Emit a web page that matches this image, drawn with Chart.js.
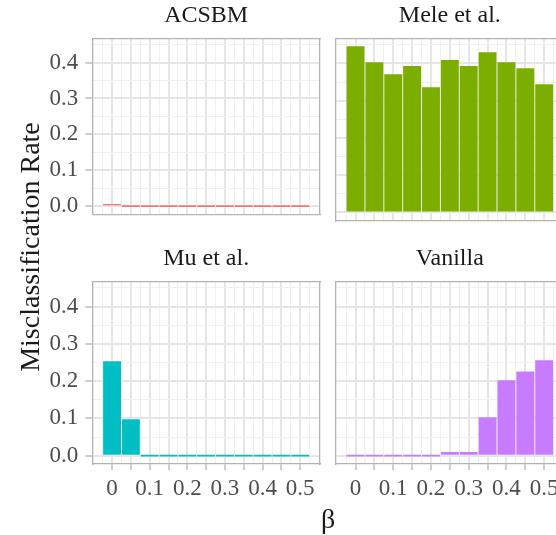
<!DOCTYPE html>
<html>
<head>
<meta charset="utf-8">
<script src="https://cdn.jsdelivr.net/npm/chart.js@4"></script>
<style>
  html, body { margin: 0; padding: 0; background: #fff; overflow: hidden; }
  body { width: 556px; height: 535px; position: relative; font-family: "Liberation Serif", serif; }
  canvas { position: absolute; }
  .lab { position: absolute; color: #1a1a1a; text-align: center; font-size: 28px; }
</style>
</head>
<body>
<canvas id="c1" width="328" height="235" style="left:0;top:0"></canvas>
<canvas id="c2" width="250" height="235" style="left:328px;top:0"></canvas>
<canvas id="c3" width="328" height="300" style="left:0;top:235px"></canvas>
<canvas id="c4" width="250" height="300" style="left:328px;top:235px"></canvas>
<div class="lab" style="left:-170px;top:230px;width:400px;height:34px;line-height:34px;transform:rotate(-90deg)">Misclassification Rate</div>
<div class="lab" style="left:228px;top:502px;width:200px;height:34px;line-height:34px">β</div>
<script>
var betas = [0, 0.05, 0.1, 0.15, 0.2, 0.25, 0.3, 0.35, 0.4, 0.45, 0.5];
var xTickLabels = ['0', '', '0.1', '', '0.2', '', '0.3', '', '0.4', '', '0.5'];
var xMinor = [-0.025, 0.025, 0.075, 0.125, 0.175, 0.225, 0.275, 0.325, 0.375, 0.425, 0.475, 0.525];
var yTicks = [0, 0.1, 0.2, 0.3, 0.4];
var yMinor = [0.05, 0.15, 0.25, 0.35, 0.45];

var acsbm   = [0.006, 0, 0, 0, 0, 0, 0, 0, 0, 0, 0];
var mele    = [0.446, 0.403, 0.371, 0.393, 0.336, 0.409, 0.393, 0.430, 0.403, 0.387, 0.344];
var mu      = [0.253, 0.098, 0, 0, 0, 0, 0, 0, 0, 0, 0];
var vanilla = [0, 0, 0, 0, 0, 0.010, 0.010, 0.103, 0.202, 0.226, 0.256];

var borderCol = '#b3b3b3';
var tickFont = { family: 'Liberation Serif', size: 23 };

function panel(id, title, values, color, showX, showY, top) {
  var right = showY ? 8 : 14;
  return new Chart(document.getElementById(id), {
    type: 'bar',
    data: {
      datasets: [{
        data: betas.map(function(b, i){ return { x: b, y: values[i] }; }),
        backgroundColor: color,
        barPercentage: 0.95,
        categoryPercentage: 1,
        minBarLength: 1.8
      }]
    },
    options: {
      responsive: false,
      animation: false,
      layout: { padding: { left: showY ? 0 : 7.7, right: right, top: 0, bottom: showX ? 26 : 14.3 } },
      plugins: {
        legend: { display: false },
        tooltip: { enabled: false },
        title: {
          display: true, text: title, color: '#1a1a1a', fullSize: false,
          font: { family: 'Liberation Serif', size: 24, weight: 'normal', lineHeight: 1.2 },
          padding: top ? { top: 1.6, bottom: 8.3 } : { top: 9.6, bottom: 8.3 }
        }
      },
      scales: {
        x: {
          type: 'linear', position: 'bottom', min: -0.0525, max: 0.5525, offset: false,
          afterBuildTicks: function(s){ s.ticks = betas.map(function(v){ return { value: v }; }); },
          afterFit: function(s){ s.height = showX ? 45 : 0; },
          ticks: {
            display: showX, autoSkip: false, maxRotation: 0, padding: 5,
            color: '#4d4d4d', font: tickFont,
            callback: function(v, i){ return xTickLabels[i]; }
          },
          grid: { offset: false, color: '#e6e6e6', lineWidth: 2, drawTicks: showX, tickLength: 6, tickColor: borderCol, tickWidth: 1.3 },
          border: { display: true, color: borderCol, width: 1.3 }
        },
        xm: {
          type: 'linear', position: 'top', min: -0.0525, max: 0.5525, offset: false,
          afterBuildTicks: function(s){ s.ticks = xMinor.map(function(v){ return { value: v }; }); },
          afterFit: function(s){ s.height = 0; },
          ticks: { display: false },
          grid: { offset: false, color: '#f0f0f0', lineWidth: 1, drawTicks: false },
          border: { display: true, color: borderCol, width: 1.3 }
        },
        y: {
          type: 'linear', position: 'left', min: -0.0223, max: 0.4665,
          afterBuildTicks: function(s){ s.ticks = yTicks.map(function(v){ return { value: v }; }); },
          afterFit: function(s){ s.width = showY ? 92.3 : 0; },
          ticks: {
            display: showY, padding: 7, color: '#4d4d4d', font: tickFont,
            callback: function(v){ return v.toFixed(1); }
          },
          grid: { color: '#e6e6e6', lineWidth: 2, drawTicks: showY, tickLength: 7, tickColor: borderCol, tickWidth: 1.3 },
          border: { display: true, color: borderCol, width: 1.3 }
        },
        ym: {
          type: 'linear', position: 'right', min: -0.0223, max: 0.4665,
          afterBuildTicks: function(s){ s.ticks = yMinor.map(function(v){ return { value: v }; }); },
          afterFit: function(s){ s.width = 0; },
          ticks: { display: false },
          grid: { color: '#f0f0f0', lineWidth: 1, drawTicks: false },
          border: { display: true, color: borderCol, width: 1.3 }
        }
      }
    }
  });
}

panel('c1', 'ACSBM', acsbm, '#F8766D', false, true, true);
panel('c2', 'Mele et al.', mele, '#7CAE00', false, false, true);
panel('c3', 'Mu et al.', mu, '#00BFC4', true, true, false);
panel('c4', 'Vanilla', vanilla, '#C77CFF', true, false, false);
</script>
</body>
</html>
